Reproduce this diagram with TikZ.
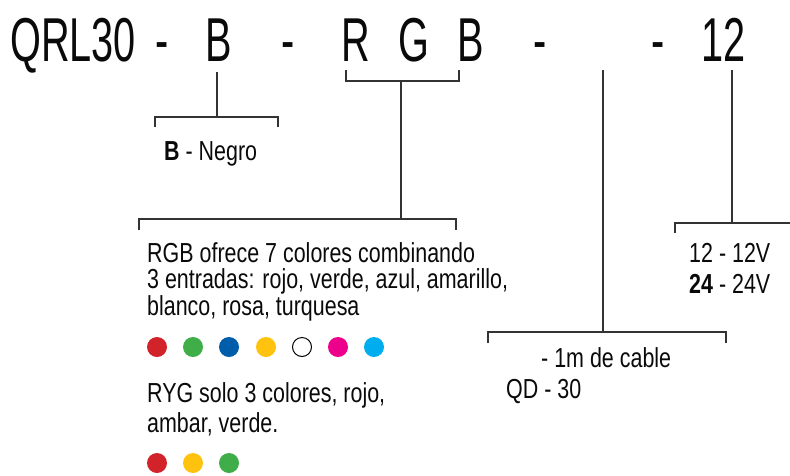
\documentclass[tikz,border=0pt]{standalone}
\usepackage{fontspec}
\setmainfont{Liberation Sans}[FakeStretch=0.78]
\newfontfamily\titlefont{Liberation Sans}[FakeStretch=0.64]
\definecolor{cred}{HTML}{D2232A}
\definecolor{cgreen}{HTML}{3FAE49}
\definecolor{cblue}{HTML}{005DAA}
\definecolor{cyellow}{HTML}{FFC20E}
\definecolor{cmag}{HTML}{EC008C}
\definecolor{ccyan}{HTML}{00AEEF}
\definecolor{ink}{HTML}{0A0A0A}
\definecolor{lc}{HTML}{333333}
\tikzset{
  big/.style={inner sep=0pt, anchor=base west, font=\titlefont\fontsize{62}{62}\selectfont, text=ink},
  txt/.style={inner sep=0pt, anchor=base west, font=\fontsize{27.5}{27.5}\selectfont, text=ink},
  ln/.style={draw=lc, line width=1.4pt},
  dot/.style={circle, minimum size=20pt, inner sep=0pt},
}
\begin{document}
\begin{tikzpicture}[x=1pt,y=1pt]
\useasboundingbox (0,0) rectangle (790,-475);
% title
\node[big] (tq) at (10,-61) {QRL30};
\node[big] (td1) at (155,-61) {-};
\node[big] (tb) at (205,-61) {B};
\node[big] (td2) at (281,-61) {-};
\node[big] (tr) at (341,-61) {R};
\node[big] (tg) at (398,-61) {G};
\node[big] (tb2) at (457,-61) {B};
\node[big] (td3) at (533,-61) {-};
\node[big] (td4) at (651,-61) {-};
\node[big] (t12) at (701,-61) {12};
% B bracket
\coordinate (b0) at (217,-72);
\coordinate (b1) at (217,-117);
\coordinate (bl) at (155,-117);
\coordinate (br) at (278,-117);
\draw[ln] (b0) -- (b1);
\draw[ln] ([yshift=-10pt]bl) -- (bl) -- (br) -- ([yshift=-10pt]br);
\node[txt] (negro) at (164,-160) {\textbf{B} - Negro};
% RGB bracket
\coordinate (r0) at (346,-70);
\coordinate (r1) at (346,-81);
\coordinate (r2) at (459,-81);
\coordinate (r3) at (459,-70);
\coordinate (rm) at (401,-81);
\coordinate (rm2) at (401,-219);
\coordinate (rl) at (139,-219);
\coordinate (rr) at (456,-219);
\draw[ln] (r0) -- (r1) -- (r2) -- (r3);
\draw[ln] (rm) -- (rm2);
\draw[ln] ([yshift=-11pt]rl) -- (rl) -- (rr) -- ([yshift=-11pt]rr);
\node[txt] (rgb1) at (147,-262) {RGB ofrece 7 colores combinando};
\node[txt] (rgb2) at (147,-288) {3 entradas: rojo, verde, azul, amarillo,};
\node[txt] (rgb3) at (147,-315) {blanco, rosa, turquesa};
\node[dot, fill=cred] (c1) at (157,-347) {};
\node[dot, fill=cgreen] (c2) at (193,-347) {};
\node[dot, fill=cblue] (c3) at (229,-347) {};
\node[dot, fill=cyellow] (c4) at (266,-347) {};
\node[dot, draw=black, line width=1pt, minimum size=19pt] (c5) at (302,-347) {};
\node[dot, fill=cmag] (c6) at (338,-347) {};
\node[dot, fill=ccyan] (c7) at (374,-347) {};
\node[txt] (ryg1) at (147,-402) {RYG solo 3 colores, rojo,};
\node[txt] (ryg2) at (147,-432) {ambar, verde.};
\node[dot, fill=cred] (d1) at (157,-463) {};
\node[dot, fill=cyellow] (d2) at (193,-463) {};
\node[dot, fill=cgreen] (d3) at (229,-463) {};
% cable bracket
\coordinate (q0) at (603,-70);
\coordinate (q1) at (603,-332);
\coordinate (ql) at (488,-332);
\coordinate (qr) at (726,-332);
\draw[ln] (q0) -- (q1);
\draw[ln] ([yshift=-11pt]ql) -- (ql) -- (qr) -- ([yshift=-11pt]qr);
\node[txt] (cab) at (541,-367) {- 1m de cable};
\node[txt] (qd) at (506,-398) {QD - 30};
% voltage bracket
\coordinate (v0) at (732,-70);
\coordinate (v1) at (732,-223);
\coordinate (vl) at (675,-223);
\coordinate (vr) at (791,-223);
\draw[ln] (v0) -- (v1);
\draw[ln] ([yshift=-10pt]vl) -- (vl) -- (vr);
\node[txt] (v12) at (689,-262) {12 - 12V};
\node[txt] (v24) at (689,-293) {\textbf{24} - 24V};
\end{tikzpicture}
\end{document}
